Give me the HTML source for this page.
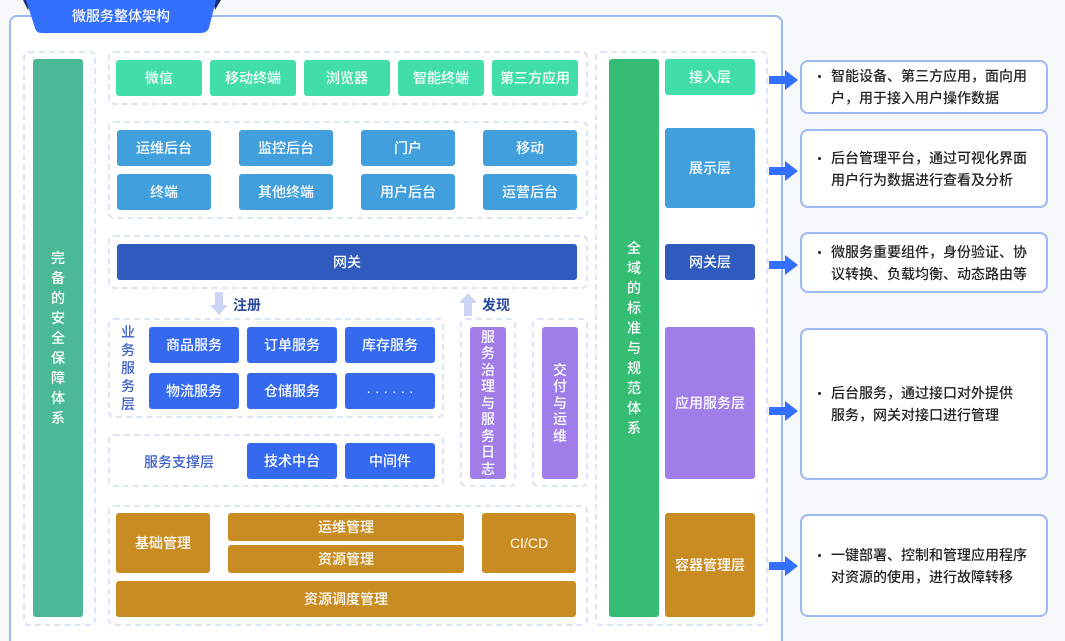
<!DOCTYPE html>
<html><head><meta charset="utf-8"><style>
*{margin:0;padding:0;box-sizing:border-box}
html,body{width:1065px;height:641px;overflow:hidden}
body{background:#f7f8fa;position:relative;font-family:"Liberation Sans","Noto Sans CJK SC",sans-serif}
div{position:absolute}
.frame{left:9px;top:15px;width:774px;height:626px;border:2px solid #9db9f5;border-bottom:none;border-radius:8px 8px 0 0;background:#fff}
.d{border:2px dashed #dde3f8;border-radius:6px}
.b{color:#fff;font-size:14px;font-weight:500;display:flex;align-items:center;justify-content:center;border-radius:3px;text-align:center}
.g{background:#42dea9}.s{background:#419fde}.n{background:#2e5bbd}.bl{background:#356af0}.p{background:#a07de8}.o{background:#c98c22}
.vt{display:flex;flex-direction:column;align-items:center;justify-content:center;font-size:14px;font-weight:500;line-height:20px;color:#fff}
.desc{left:800px;width:248px;border:2px solid #9db9f5;border-radius:8px;background:#fff;display:flex;align-items:center;padding-left:29px;padding-right:4px;font-size:14px;font-weight:500;line-height:22px;color:#222;white-space:nowrap}
.desc span{position:relative;display:block}
.desc span:before{content:"";position:absolute;left:-13px;top:10px;width:3px;height:3px;background:#222;border-radius:50%}
</style></head><body>
<div class="frame"></div>
<svg style="position:absolute;left:0;top:0" width="240" height="36"><polygon points="23,0 31,0 28,10" fill="#1a2f7a"/><polygon points="213,0 221,0 215,10" fill="#1a2f7a"/><path d="M26,0 L216,0 L209,28 Q207,33 200,33 L42,33 Q36,33 35,28 Z" fill="#3370ff"/><text x="121" y="21" fill="#fff" font-size="14" font-weight="500" text-anchor="middle" font-family="Liberation Sans,Noto Sans CJK SC,sans-serif">微服务整体架构</text></svg>

<div class="d" style="left:23px;top:51px;width:73px;height:575px"></div>
<div class="vt" style="left:33px;top:59px;width:50px;height:558px;background:#4bb996;border-radius:3px"><span>完</span><span>备</span><span>的</span><span>安</span><span>全</span><span>保</span><span>障</span><span>体</span><span>系</span></div>

<div class="d" style="left:108px;top:51px;width:480px;height:54px"></div>
<div class="b g" style="left:116px;top:60px;width:86px;height:36px">微信</div>
<div class="b g" style="left:210px;top:60px;width:86px;height:36px">移动终端</div>
<div class="b g" style="left:304px;top:60px;width:86px;height:36px">浏览器</div>
<div class="b g" style="left:398px;top:60px;width:86px;height:36px">智能终端</div>
<div class="b g" style="left:492px;top:60px;width:86px;height:36px">第三方应用</div>

<div class="d" style="left:108px;top:121px;width:480px;height:98px"></div>
<div class="b s" style="left:117px;top:130px;width:94px;height:36px">运维后台</div>
<div class="b s" style="left:239px;top:130px;width:94px;height:36px">监控后台</div>
<div class="b s" style="left:361px;top:130px;width:94px;height:36px">门户</div>
<div class="b s" style="left:483px;top:130px;width:94px;height:36px">移动</div>
<div class="b s" style="left:117px;top:174px;width:94px;height:36px">终端</div>
<div class="b s" style="left:239px;top:174px;width:94px;height:36px">其他终端</div>
<div class="b s" style="left:361px;top:174px;width:94px;height:36px">用户后台</div>
<div class="b s" style="left:483px;top:174px;width:94px;height:36px">运营后台</div>

<div class="d" style="left:108px;top:235px;width:480px;height:54px"></div>
<div class="b n" style="left:117px;top:244px;width:460px;height:36px">网关</div>

<svg style="position:absolute;left:210px;top:292px" width="18" height="24"><path d="M5,0 H13 V13 H18 L9,23 L0,13 H5 Z" fill="#ccd4f5"/></svg>
<div style="left:233px;top:295px;font-size:14px;color:#2b4a9e;font-weight:bold">注册</div>
<svg style="position:absolute;left:459px;top:292px" width="18" height="24"><path d="M5,24 H13 V11 H18 L9,1 L0,11 H5 Z" fill="#ccd4f5"/></svg>
<div style="left:482px;top:295px;font-size:14px;color:#2b4a9e;font-weight:bold">发现</div>

<div class="d" style="left:108px;top:318px;width:336px;height:100px"></div>
<div class="vt" style="left:118px;top:322px;width:20px;height:92px;color:#3a5fc8;line-height:18px"><span>业</span><span>务</span><span>服</span><span>务</span><span>层</span></div>
<div class="b bl" style="left:149px;top:327px;width:90px;height:36px">商品服务</div>
<div class="b bl" style="left:247px;top:327px;width:90px;height:36px">订单服务</div>
<div class="b bl" style="left:345px;top:327px;width:90px;height:36px">库存服务</div>
<div class="b bl" style="left:149px;top:373px;width:90px;height:36px">物流服务</div>
<div class="b bl" style="left:247px;top:373px;width:90px;height:36px">仓储服务</div>
<div class="b bl" style="left:345px;top:373px;width:90px;height:36px">· · · · · ·</div>

<div class="d" style="left:108px;top:434px;width:336px;height:53px"></div>
<div style="left:144px;top:452px;font-size:14px;font-weight:500;color:#3a5fc8">服务支撑层</div>
<div class="b bl" style="left:247px;top:443px;width:90px;height:36px">技术中台</div>
<div class="b bl" style="left:345px;top:443px;width:90px;height:36px">中间件</div>

<div class="d" style="left:460px;top:318px;width:56px;height:169px"></div>
<div class="vt p" style="left:470px;top:327px;width:36px;height:152px;border-radius:3px;line-height:16.5px"><span>服</span><span>务</span><span>治</span><span>理</span><span>与</span><span>服</span><span>务</span><span>日</span><span>志</span></div>
<div class="d" style="left:532px;top:318px;width:56px;height:169px"></div>
<div class="vt p" style="left:542px;top:327px;width:36px;height:152px;border-radius:3px;line-height:16.5px"><span>交</span><span>付</span><span>与</span><span>运</span><span>维</span></div>

<div class="d" style="left:108px;top:505px;width:480px;height:121px"></div>
<div class="b o" style="left:116px;top:513px;width:94px;height:60px">基础管理</div>
<div class="b o" style="left:228px;top:513px;width:236px;height:28px">运维管理</div>
<div class="b o" style="left:228px;top:545px;width:236px;height:28px">资源管理</div>
<div class="b o" style="left:482px;top:513px;width:94px;height:60px">CI/CD</div>
<div class="b o" style="left:116px;top:581px;width:460px;height:36px">资源调度管理</div>

<div class="d" style="left:595px;top:51px;width:173px;height:575px"></div>
<div class="vt" style="left:609px;top:59px;width:50px;height:558px;background:#36bd74;border-radius:3px"><span>全</span><span>域</span><span>的</span><span>标</span><span>准</span><span>与</span><span>规</span><span>范</span><span>体</span><span>系</span></div>
<div class="b g" style="left:665px;top:59px;width:90px;height:36px">接入层</div>
<div class="b s" style="left:665px;top:128px;width:90px;height:80px">展示层</div>
<div class="b n" style="left:665px;top:244px;width:90px;height:36px">网关层</div>
<div class="b p" style="left:665px;top:327px;width:90px;height:152px">应用服务层</div>
<div class="b o" style="left:665px;top:513px;width:90px;height:104px">容器管理层</div>

<svg style="position:absolute;left:769px;top:70px" width="30" height="20"><path d="M0,6 H16 V0 L29,10 L16,20 V14 H0 Z" fill="#3370ff"/></svg>
<svg style="position:absolute;left:769px;top:161px" width="30" height="20"><path d="M0,6 H16 V0 L29,10 L16,20 V14 H0 Z" fill="#3370ff"/></svg>
<svg style="position:absolute;left:769px;top:255px" width="30" height="20"><path d="M0,6 H16 V0 L29,10 L16,20 V14 H0 Z" fill="#3370ff"/></svg>
<svg style="position:absolute;left:769px;top:401px" width="30" height="20"><path d="M0,6 H16 V0 L29,10 L16,20 V14 H0 Z" fill="#3370ff"/></svg>
<svg style="position:absolute;left:769px;top:556px" width="30" height="20"><path d="M0,6 H16 V0 L29,10 L16,20 V14 H0 Z" fill="#3370ff"/></svg>

<div class="desc" style="top:60px;height:54px"><span>智能设备、第三方应用，面向用<br>户，用于接入用户操作数据</span></div>
<div class="desc" style="top:129px;height:79px"><span>后台管理平台，通过可视化界面<br>用户行为数据进行查看及分析</span></div>
<div class="desc" style="top:232px;height:61px"><span>微服务重要组件，身份验证、协<br>议转换、负载均衡、动态路由等</span></div>
<div class="desc" style="top:328px;height:152px"><span>后台服务，通过接口对外提供<br>服务，网关对接口进行管理</span></div>
<div class="desc" style="top:514px;height:103px"><span>一键部署、控制和管理应用程序<br>对资源的使用，进行故障转移</span></div>
</body></html>
